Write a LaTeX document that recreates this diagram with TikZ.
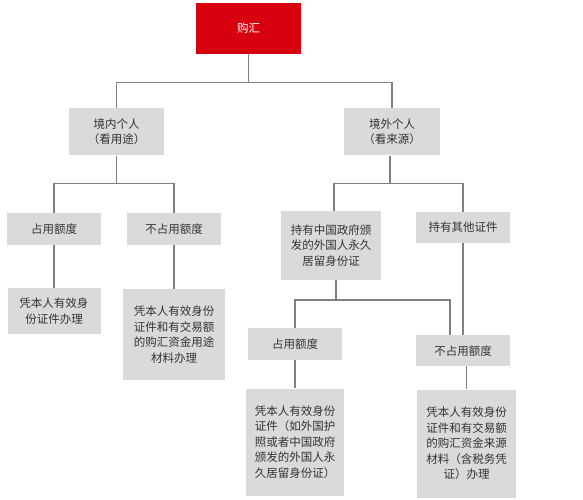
\documentclass[tikz,border=0pt]{standalone}
\usepackage{fontspec}
\setmainfont{Noto Sans CJK SC}
\usepackage{xcolor}
\usepackage{tikz}
\usetikzlibrary{positioning}
\definecolor{FxRed}{HTML}{D7000F}
\definecolor{FxGray}{HTML}{DADADA}
\definecolor{FxLine}{HTML}{808080}
\definecolor{FxText}{HTML}{333333}

\begin{document}
\begin{tikzpicture}[x=1pt, y=-1pt, every node/.style={font=\fontsize{11.5pt}{15.5pt}\selectfont}]
      \tikzset{
        head/.style={rectangle, fill=FxRed, text=white, inner sep=2pt, align=center},
        cell/.style={rectangle, fill=FxGray, text=FxText, inner sep=2pt, align=center},
        line/.style={draw=FxLine, line width=1.1pt}
      }
      \useasboundingbox (0,0) rectangle (583,500);
      \node[head, minimum width=105pt, minimum height=51pt] (buy) at (248.5,28.5) {购汇};
      \node[cell, minimum width=95pt, minimum height=47pt, below=54pt of buy, xshift=-132pt] (domestic) {境内个人\\（看用途）};
      \node[cell, minimum width=96pt, minimum height=47pt, below=54pt of buy, xshift=143.5pt] (foreign) {境外个人\\（看来源）};
      \node[cell, minimum width=94pt, minimum height=32pt, below=57pt of domestic, xshift=-62.5pt] (dquota) {占用额度};
      \node[cell, minimum width=94pt, minimum height=32pt, below=57pt of domestic, xshift=57.5pt] (dfree) {不占用额度};
      \node[cell, minimum width=100pt, minimum height=69pt, below=55pt of foreign, xshift=-61pt] (permit) {持有中国政府颁\\发的外国人永久\\居留身份证};
      \node[cell, minimum width=94pt, minimum height=31pt, below=56pt of foreign, xshift=71pt] (other) {持有其他证件};
      \node[cell, minimum width=93pt, minimum height=46pt, below=43pt of dquota] (dquotadoc) {凭本人有效身\\份证件办理};
      \node[cell, minimum width=102pt, minimum height=91pt, below=44pt of dfree] (dfreedoc) {凭本人有效身份\\证件和有交易额\\的购汇资金用途\\材料办理};
      \node[cell, minimum width=94pt, minimum height=32pt, below=48pt of permit, xshift=-36pt] (fquota) {占用额度};
      \node[cell, minimum width=94pt, minimum height=31pt, below=92pt of other] (ffree) {不占用额度};
      \node[cell, minimum width=98pt, minimum height=107pt, below=28pt of fquota] (fquotadoc) {凭本人有效身份\\证件（如外国护\\照或者中国政府\\颁发的外国人永\\久居留身份证）};
      \node[cell, minimum width=99pt, minimum height=108pt, below=23pt of ffree, xshift=3.5pt] (ffreedoc) {凭本人有效身份\\证件和有交易额\\的购汇资金来源\\材料（含税务凭\\证）办理};

      \draw[line] (buy.south) -- ++(0,28) -| (domestic.north);
      \draw[line] (buy.south) -- ++(0,28) -| (foreign.north);
      \draw[line] (domestic.south) -- ++(0,28) -| (dquota.north);
      \draw[line] (domestic.south) -- ++(0,28) -| (dfree.north);
      \draw[line] ([xshift=-2pt]foreign.south) -- ++(0,28) -| ([xshift=3pt]permit.north);
      \draw[line] ([xshift=-2pt]foreign.south) -- ++(0,28) -| (other.north);
      \draw[line] (dquota) -- (dquotadoc);
      \draw[line] (dfree) -- (dfreedoc);
      \draw[line] ([xshift=5pt]permit.south) -- ++(0,20) -| (fquota.north);
      \draw[line] ([xshift=5pt]permit.south) -- ++(0,20) -| ([xshift=-13pt]ffree.north);
      \draw[line] (other) -- (ffree);
      \draw[line] (fquota) -- (fquotadoc);
      \draw[line] (ffreedoc.north) -- (ffreedoc.north |- ffree.south);
    \end{tikzpicture}
\end{document}
